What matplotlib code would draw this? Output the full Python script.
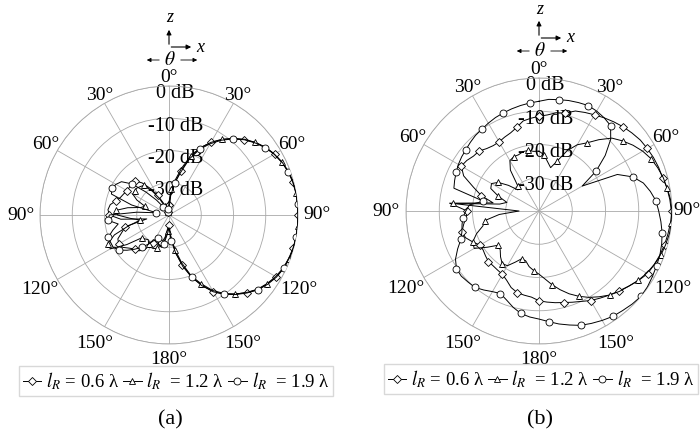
import numpy as np
import matplotlib
matplotlib.use('Agg')
import matplotlib.pyplot as plt
from matplotlib.lines import Line2D
from matplotlib.patches import FancyArrowPatch

plt.rcParams['font.family'] = ['Liberation Serif', 'DejaVu Serif']
plt.rcParams['mathtext.fontset'] = 'stix'

# Data (dB vs theta, 0..355 deg step 5, theta clockwise from +z)
# ----
theta_deg = list(range(0, 360, 5))

# panel (a)
a_06 = [-37, -33, -30, -26, -21, -17, -14, -11.5, -9, -7, -5, -3.4, -2.2, -1.3, -0.6, -0.2, 0, 0,
        0, 0, 0, -0.1, -0.3, -0.8, -1.6, -2.8, -4, -6, -8, -10, -12.6, -16, -19.5, -24, -28, -33,
        -37, -36, -33, -31, -30, -32, -30, -27, -25.5, -25, -24, -22.5, -22, -22.5, -24.5, -26, -33, -25,
        -21.5, -21, -21.5, -23, -24, -24.5, -25, -25, -24.5, -25, -27, -30, -33, -36, -38, -39, -39, -38]
a_12 = [-36, -32, -29, -25, -20.5, -17, -14, -11.3, -9, -6.8, -5, -3.5, -2.3, -1.4, -0.7, -0.3, -0.1, 0,
        0, 0, 0, -0.2, -0.5, -1, -1.8, -2.9, -4.2, -6, -8, -10.3, -13, -16.5, -20, -24.5, -29, -33,
        -36, -35, -32, -30, -29, -28.5, -28.5, -29, -30, -29.5, -29, -24, -19, -19, -22, -27, -31, -28,
        -24, -23.5, -27, -31, -32, -29, -27, -27, -27, -27.5, -28, -31, -34, -37, -39, -39, -39, -38]
a_19 = [-38, -34, -30, -26.5, -21.5, -17.5, -14.5, -11.7, -9.2, -7, -5.2, -3.6, -2.3, -1.3, -0.6, -0.2, 0, 0,
        0, 0, 0, -0.1, -0.4, -0.8, -1.5, -2.6, -3.9, -5.8, -7.8, -10, -12.5, -15.8, -19.5, -23.5, -28, -32,
        -36, -34, -31, -30, -30.5, -32, -31, -29, -27, -25, -23, -21, -20, -20, -20, -22, -24, -21,
        -21.5, -30, -36, -28, -21, -20.5, -21, -22, -25, -30, -34, -37, -39, -39, -39, -39, -39, -38]

# panel (b)
b_06 = [-11.5, -11, -10, -9.5, -8, -7.3, -6.6, -5.8, -5, -4.2, -3.5, -2.8, -2.4, -2, -1.7, -1.5, -0.8, -0.3,
        0, -0.3, -0.6, -0.9, -1.3, -1.8, -2.3, -3.5, -4.8, -6, -7, -8, -8.9, -10, -10.8, -11.5, -12, -12.5,
        -13, -14, -14.3, -14.6, -15.5, -17, -18, -18.3, -18.5, -18.5, -19, -19.5, -19.5, -18, -16.5, -16, -17, -18,
        -18.4, -13, -26, -22, -19, -15, -13, -13.5, -14.3, -14.5, -15.5, -16, -16, -15.5, -15, -14, -12.5, -12]
b_12 = [-22, -23, -25, -26.5, -24, -20, -17, -15, -12, -9, -7.2, -5.5, -4, -2.8, -2, -1.3, -0.9, -0.5,
        -0.2, 0, -0.2, -0.6, -1, -1.8, -2.6, -3.6, -4.8, -5.8, -7, -8.5, -10, -11.7, -13.5, -15.5, -17.5, -19.5,
        -21, -22, -23, -24.5, -24.7, -23, -21, -20.7, -22, -23.5, -24, -21, -17.5, -18, -20, -22.5, -23.5, -28,
        -34, -14, -28, -30, -27, -24, -23.5, -25, -28, -31, -30, -25, -22.5, -22, -22, -21.5, -21.5, -22]
b_19 = [-7, -6.3, -6, -5.6, -5.3, -5, -5.3, -5.8, -6.5, -9.5, -14, -19, -25, -14, -10, -7.5, -6, -4.7,
        -4, -3.2, -2.4, -1.8, -1.3, -1, -0.6, -0.2, 0, -0.4, -0.9, -1.3, -2, -2.7, -3.4, -4.5, -5.5, -6.6,
        -7.5, -8, -8.7, -10, -11.5, -12.6, -12, -11, -10, -9.8, -9.5, -9.7, -11, -13, -15, -16, -16.5, -17,
        -18, -19, -23, -13.5, -13, -12.5, -12, -11.6, -11.3, -10.8, -10.3, -10, -9.5, -9, -8.6, -8.2, -7.8, -7.4]

labels = [r'$l_R$ = 0.6 λ', r'$l_R$  = 1.2 λ', r'$l_R$  = 1.9 λ']
markers = ['D', '^', 'o']
msizes = [4.0, 5.0, 5.0]
ang_labels = ['0°', '30°', '60°', '90°', '120°', '150°', '180°', '150°', '120°', '90°', '60°', '30°']
ang_dist = [1.065, 1.07, 1.10, 1.15, 1.16, 1.15, 1.12, 1.15, 1.16, 1.15, 1.10, 1.07]
r_labels = ['0 dB', '-10 dB', '-20 dB', '-30 dB']
r_values = [0, -10, -20, -30]

W, H = 700, 438
grid_col = '#a8a8a8'


def fpx(x, y):
    return (x / W, 1 - y / H)


def draw_panel(ax, series, R, d90=1.15):
    ax.set_theta_zero_location('N')
    ax.set_theta_direction(-1)
    ax.set_rlim(-40, 0)
    ax.set_rticks([-30, -20, -10, 0])
    ax.set_yticklabels([])
    ax.set_thetagrids(range(0, 360, 30), labels=[''] * 12)
    ax.grid(True, color=grid_col, lw=0.6)
    ax.spines['polar'].set_color(grid_col)
    ax.spines['polar'].set_linewidth(0.6)
    ax.tick_params(length=0)
    ax.set_facecolor('none')

    th = np.deg2rad(np.append(theta_deg, 360))
    for k, vals in enumerate(series):
        r = np.append(vals, vals[0])
        ax.plot(th, r, color='k', lw=0.7, marker=markers[k], ms=msizes[k],
                mfc='white', mec='k', mew=0.6, markevery=(k, 3), zorder=3 + k)

    for i, (lab, d, a) in enumerate(zip(ang_labels, ang_dist, range(0, 360, 30))):
        if i == 3:
            d = d90
        t = np.deg2rad(a)
        ax.text(0.5 + 0.5 * d * np.sin(t), 0.5 + 0.5 * d * np.cos(t), lab,
                transform=ax.transAxes, ha='center', va='center', fontsize=14)
    for lab, v in zip(r_labels, r_values):
        rp = R * (v + 40) / 40.0
        ax.text(0.5 + 6.5 / (2 * R), 0.5 + (rp - 8) / (2 * R), lab,
                transform=ax.transAxes, ha='center', va='center', fontsize=14.5, zorder=2)


def draw_icon(fig, cx, top):
    # z / x axes with theta arrows
    fig.text(*fpx(cx + 1, top), 'z', style='italic', ha='center', va='center', fontsize=13)
    fig.add_artist(FancyArrowPatch(fpx(cx, top + 29), fpx(cx, top + 9), transform=fig.transFigure,
                                   arrowstyle='-|>', mutation_scale=7, lw=0.8, color='k'))
    fig.add_artist(FancyArrowPatch(fpx(cx - 0.5, top + 29), fpx(cx + 25, top + 29), transform=fig.transFigure,
                                   arrowstyle='-|>', mutation_scale=7, lw=0.8, color='k'))
    fig.text(*fpx(cx + 31, top + 29), 'x', style='italic', ha='center', va='center', fontsize=13)
    fig.text(*fpx(cx + 1, top + 42), r'$\theta$', ha='center', va='center', fontsize=14)
    fig.add_artist(FancyArrowPatch(fpx(cx - 7, top + 42), fpx(cx - 25, top + 42), transform=fig.transFigure,
                                   arrowstyle='-|>', mutation_scale=6, lw=0.6, color='k'))
    fig.add_artist(FancyArrowPatch(fpx(cx + 9, top + 42), fpx(cx + 31, top + 42), transform=fig.transFigure,
                                   arrowstyle='-|>', mutation_scale=6, lw=0.6, color='k'))


fig = plt.figure(figsize=(7, 4.38), dpi=100)

# panel (a): center (169,215), radius 129 px
Ra, cxa, cya = 129, 169, 215
axa = fig.add_axes([(cxa - Ra) / W, 1 - (cya + Ra) / H, 2 * Ra / W, 2 * Ra / H], projection='polar')
draw_panel(axa, [a_06, a_12, a_19], Ra)

# panel (b): center (539,211), radius 133 px
Rb, cxb, cyb = 133, 539, 211
axb = fig.add_axes([(cxb - Rb) / W, 1 - (cyb + Rb) / H, 2 * Rb / W, 2 * Rb / H], projection='polar')
draw_panel(axb, [b_06, b_12, b_19], Rb, d90=1.11)

draw_icon(fig, 169, 18)
draw_icon(fig, 539, 9)

handles = [Line2D([0], [0], color='k', lw=0.7, marker=m, ms=s, mfc='white', mec='k', mew=0.6)
           for m, s in zip(markers, msizes)]
for cx, cy in [(176, 381), (541, 379)]:
    fig.legend(handles, labels, loc='center', bbox_to_anchor=fpx(cx, cy), ncol=3, fontsize=13.5,
               frameon=True, fancybox=False, edgecolor='#d8d8d8', framealpha=1,
               handlelength=1.0, handletextpad=0.25, columnspacing=0.2, borderpad=0.2,
               borderaxespad=0)

fig.text(*fpx(170, 420), '(a)', ha='center', va='center', fontsize=16)
fig.text(*fpx(540, 420), '(b)', ha='center', va='center', fontsize=16)

fig.savefig('out.png', dpi=100)
